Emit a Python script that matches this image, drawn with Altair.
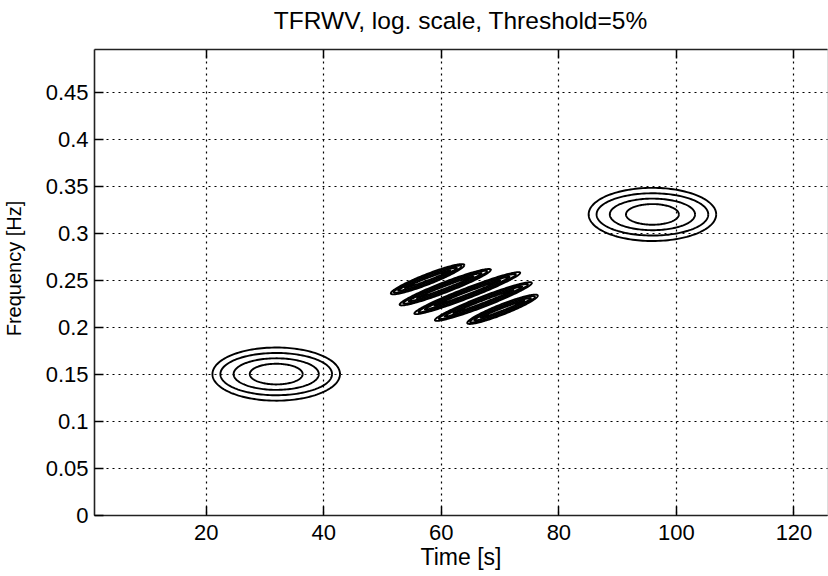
import altair as alt
import pandas as pd

TITLE = "TFRWV, log. scale, Threshold=5%"
X_TITLE = "Time [s]"
Y_TITLE = "Frequency [Hz]"

# auto-terms (two Gaussian atoms): centres
atom_time = [32.0, 96.0]
atom_freq = [0.15, 0.32]
# contour rings of each atom, outer to inner: half-width (s) and half-height (Hz)
ring_half_time = [10.85, 9.5, 7.25, 4.5]
ring_half_freq = [0.0283, 0.0225, 0.0168, 0.011]

# interference fringes between the atoms: end points of each slanted band
fringe_t_start = [51.5, 53.0, 55.5, 59.0, 64.5]
fringe_f_start = [0.236, 0.224, 0.2146, 0.2075, 0.2045]
fringe_t_end = [64.0, 68.5, 73.5, 75.5, 76.5]
fringe_f_end = [0.266, 0.261, 0.2578, 0.247, 0.2335]
# nested contour levels inside each band: relative length and half-thickness (Hz)
fringe_level_length = [1.0, 0.92, 0.8, 0.62]
fringe_level_halfthick = [0.0058, 0.0044, 0.0029, 0.0014]

x_ticks = [20, 40, 60, 80, 100, 120]
y_ticks = [0, 0.05, 0.1, 0.15, 0.2, 0.25, 0.3, 0.35, 0.4, 0.45]
x_domain = [1, 125.7]
y_domain = [0, 0.4961]

W, H = 733, 466
FONT = "Liberation Sans"

rows = []
for i, (t, f) in enumerate(zip(atom_time, atom_freq)):
    for j, (a, b) in enumerate(zip(ring_half_time, ring_half_freq)):
        rows.append(dict(id=f"atom{i}_{j}", cx=t, cy=f, ux=a, uy=0.0, vx=0.0, vy=b))
for k in range(len(fringe_t_start)):
    ts, te = fringe_t_start[k], fringe_t_end[k]
    fs, fe = fringe_f_start[k], fringe_f_end[k]
    for j, (L, h) in enumerate(zip(fringe_level_length, fringe_level_halfthick)):
        rows.append(dict(id=f"fringe{k}_{j}", cx=(ts + te) / 2, cy=(fs + fe) / 2,
                         ux=(te - ts) / 2 * L, uy=(fe - fs) / 2 * L, vx=0.0, vy=h))
df = pd.DataFrame(rows)

xs = alt.Scale(domain=x_domain, nice=False, zero=False)
ys = alt.Scale(domain=y_domain, nice=False, zero=False)

base = (
    alt.Chart(df)
    .transform_calculate(ang="sequence(0, 6.34, 0.04)")
    .transform_flatten(["ang"])
    .transform_calculate(
        x="datum.cx + datum.ux * cos(datum.ang) + datum.vx * sin(datum.ang)",
        y="datum.cy + datum.uy * cos(datum.ang) + datum.vy * sin(datum.ang)",
    )
)

lab = dict(labelFont=FONT, labelColor="black", titleFont=FONT, titleColor="black",
           titleFontWeight="normal")

main = base.mark_line(color="black", strokeWidth=1.9).encode(
    x=alt.X("x:Q", scale=xs, axis=alt.Axis(
        orient="bottom", values=x_ticks, ticks=False, tickSize=0, labelPadding=7,
        labelFontSize=22, title=X_TITLE, titleFontSize=23, titlePadding=3,
        domain=True, domainColor="#222", domainWidth=1.6,
        grid=True, gridColor="black", gridDash=[2, 4], gridWidth=1.2, gridOpacity=1,
        labelFlush=False, **lab)),
    y=alt.Y("y:Q", scale=ys, axis=alt.Axis(
        orient="left", values=y_ticks, format="~g", ticks=False, tickSize=0, labelPadding=6,
        labelFontSize=22, title=Y_TITLE, titleFontSize=20, titleX=-70, titleY=219,
        titleAngle=270, titleAlign="center", titleBaseline="bottom",
        domain=True, domainColor="#222", domainWidth=1.6,
        grid=True, gridColor="black", gridDash=[2, 4], gridWidth=1.2, gridOpacity=1,
        labelFlush=False, **lab)),
    detail="id:N",
    order="ang:Q",
)

ticks_in = base.mark_line(strokeOpacity=0).encode(
    x=alt.X("x:Q", scale=xs, axis=alt.Axis(
        orient="top", offset=-H, values=x_ticks, labels=False, ticks=True, tickSize=9,
        tickColor="black", tickWidth=1.5, domain=False, grid=False, title=None)),
    y=alt.Y("y:Q", scale=ys, axis=alt.Axis(
        orient="right", offset=-W, values=y_ticks, labels=False, ticks=True, tickSize=9,
        tickColor="black", tickWidth=1.5, domain=False, grid=False, title=None)),
    detail="id:N",
    order="ang:Q",
)

top_frame = base.mark_line(strokeOpacity=0).encode(
    x=alt.X("x:Q", scale=xs, axis=alt.Axis(
        orient="bottom", offset=-H, values=x_ticks, labels=False, ticks=True, tickSize=9,
        tickColor="black", tickWidth=1.5, domain=True, domainColor="#222", domainWidth=1.6,
        grid=False, title=None)),
    y=alt.Y("y:Q", scale=ys, axis=None),
    detail="id:N",
    order="ang:Q",
)

chart = (
    alt.layer(main, ticks_in, top_frame)
    .resolve_axis(x="independent", y="independent")
    .properties(
        width=W, height=H,
        title=alt.Title(TITLE, font=FONT, fontSize=24.5, fontWeight="normal",
                        color="black", anchor="middle", offset=14),
        autosize=alt.AutoSizeParams(type="none"),
        padding={"left": 94, "top": 49, "right": 1, "bottom": 61},
    )
    .configure_view(stroke=None)
    .configure(background="white")
)

chart.save("out.html", embed_options={"renderer": "svg", "actions": False})
